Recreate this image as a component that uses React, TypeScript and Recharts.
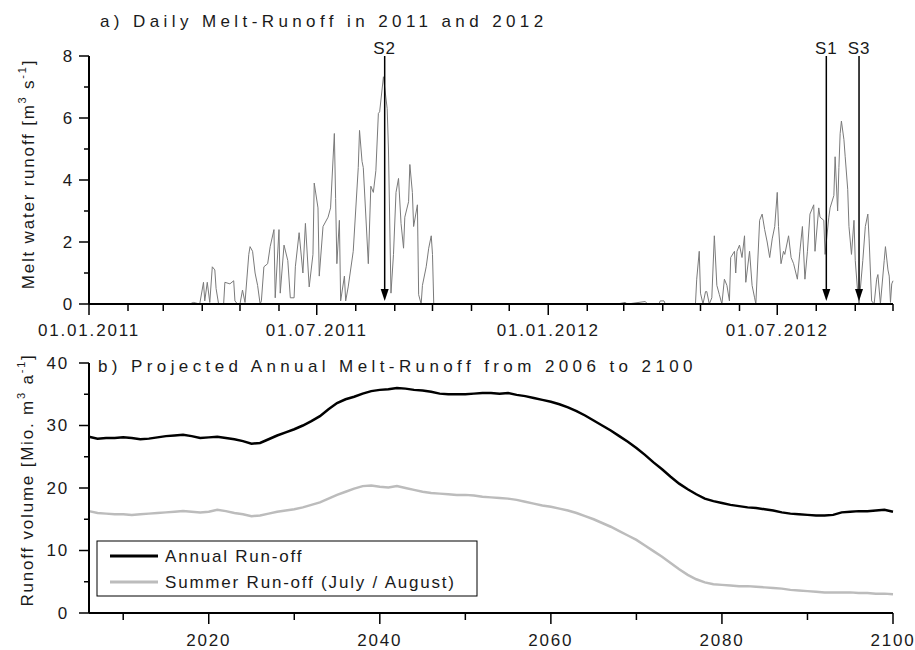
import { Line, LineChart, ReferenceLine, XAxis, YAxis } from 'recharts'

// a) daily melt-runoff, day counted from 01.01.2011, values in m³/s
const meltDays = [
	0, 80, 83, 88, 91, 92, 94, 96, 98, 100, 101, 103, 107, 108, 112, 115, 116, 118, 120, 122,
	124, 127, 128, 130, 132, 134, 136, 137, 139, 142, 144, 147, 148, 151, 152, 155, 158, 160, 163, 164,
	167, 170, 172, 175, 178, 179, 182, 183, 186, 190, 192, 195, 196, 197, 199, 200, 203, 204, 206, 210,
	214, 215, 217, 218, 222, 224, 226, 228, 230, 231, 234, 237, 238, 240, 242, 244, 246, 248, 250, 251,
	254, 255, 257, 258, 261, 262, 264, 265, 268, 270, 272, 273, 274,
	420, 426, 428, 442, 444, 453, 454, 457, 458, 482, 483, 485, 486, 488, 490, 491, 493, 495, 497, 499,
	501, 503, 505, 507, 509, 510, 513, 514, 515, 517, 519, 521, 522, 525, 527, 529, 530, 533, 535, 537,
	539, 541, 543, 545, 547, 548, 550, 552, 553, 556, 558, 560, 563, 565, 567, 569, 571, 573, 576, 577,
	580, 581, 584, 585, 588, 589, 592, 593, 595, 596, 597, 598, 600, 601, 603, 604, 606, 608, 609, 611,
	612, 615, 617, 619, 620, 622, 624, 626, 627, 629, 632, 633, 635, 636, 637, 638, 639
]
const meltValues = [
	0, 0, 0.05, 0, 0.7, 0.1, 0.7, 0.05, 1.2, 1.1, 0.5, 0, 0, 0.7, 0.65, 0.75, 0.1, 0, 0, 0.45,
	0.05, 1.6, 1.85, 1.7, 1.0, 0.6, 0, 0.1, 1.2, 1.3, 1.85, 2.4, 0.2, 2.4, 0.35, 1.9, 1.4, 0.2, 0.2, 1.2,
	2.3, 1.0, 2.6, 0.55, 1.6, 3.9, 3.1, 0.9, 2.5, 2.8, 3.1, 5.5, 3.4, 1.3, 2.7, 0.1, 0.9, 0.1, 0.55, 1.7,
	4.4, 5.6, 4.6, 4.4, 1.3, 3.8, 3.6, 4.3, 6.15, 6.2, 7.33, 6.3, 5.0, 0.35, 1.6, 3.6, 4.05, 2.6, 1.8, 2.8,
	3.3, 4.5, 3.6, 2.5, 3.2, 0.3, 0, 0.6, 1.2, 1.8, 2.2, 1.6, 0,
	0, 0.05, 0, 0.08, 0, 0, 0.1, 0.1, 0, 0, 0.8, 1.7, 0.35, 0, 0.4, 0.4, 0, 0.2, 2.2, 0.6,
	0.3, 0, 0.8, 0.6, 0.1, 1.5, 1.7, 1.0, 1.7, 1.9, 1.5, 2.2, 0.7, 1.7, 0.6, 0.2, 0, 2.7, 2.9, 2.4,
	2.0, 1.5, 2.1, 2.5, 3.6, 2.5, 1.3, 1.7, 1.6, 2.2, 1.5, 1.3, 0.8, 1.7, 2.5, 0.8, 1.7, 2.9, 3.2, 1.7,
	3.1, 2.8, 2.7, 1.6, 2.8, 3.1, 3.5, 4.75, 3.0, 4.4, 5.5, 5.9, 5.3, 4.75, 3.7, 2.5, 1.6, 2.7, 1.4, 0.35,
	0, 1.4, 2.5, 2.9, 2.1, 0.1, 0, 0.8, 0.95, 0, 1.4, 1.85, 1.1, 0.9, 0.05, 0.65, 0.75
]

// sampling dates marked with arrows
const sampleNames = ['S2', 'S1', 'S3']
const sampleDays = [235, 586, 612]

const axisMonths = [
	'2011-01', '2011-02', '2011-03', '2011-04', '2011-05', '2011-06', '2011-07', '2011-08',
	'2011-09', '2011-10', '2011-11', '2011-12', '2012-01', '2012-02', '2012-03', '2012-04',
	'2012-05', '2012-06', '2012-07', '2012-08', '2012-09', '2012-10'
]
const meltTicks = [0, 1, 2, 3, 4, 5, 6, 7, 8]

// b) projected annual runoff, Mio. m³ per year
const years = [
	2006, 2007, 2008, 2009, 2010, 2011, 2012, 2013, 2014, 2015, 2016, 2017, 2018, 2019,
	2020, 2021, 2022, 2023, 2024, 2025, 2026, 2027, 2028, 2029, 2030, 2031, 2032, 2033,
	2034, 2035, 2036, 2037, 2038, 2039, 2040, 2041, 2042, 2043, 2044, 2045, 2046, 2047,
	2048, 2049, 2050, 2051, 2052, 2053, 2054, 2055, 2056, 2057, 2058, 2059, 2060, 2061,
	2062, 2063, 2064, 2065, 2066, 2067, 2068, 2069, 2070, 2071, 2072, 2073, 2074, 2075,
	2076, 2077, 2078, 2079, 2080, 2081, 2082, 2083, 2084, 2085, 2086, 2087, 2088, 2089,
	2090, 2091, 2092, 2093, 2094, 2095, 2096, 2097, 2098, 2099, 2100
]
const annualRunoff = [
	28.2, 27.9, 28.0, 28.0, 28.1, 28.0, 27.8, 27.9, 28.1, 28.3, 28.4, 28.5, 28.3, 28.0,
	28.1, 28.2, 28.0, 27.8, 27.5, 27.1, 27.2, 27.8, 28.4, 28.9, 29.4, 30.0, 30.7, 31.5,
	32.6, 33.6, 34.2, 34.6, 35.1, 35.5, 35.7, 35.8, 36.0, 35.9, 35.7, 35.6, 35.4, 35.1,
	35.0, 35.0, 35.0, 35.1, 35.2, 35.2, 35.1, 35.2, 34.9, 34.7, 34.4, 34.1, 33.8, 33.4,
	32.9, 32.3, 31.6, 30.8, 30.0, 29.2, 28.3, 27.4, 26.4, 25.3, 24.1, 23.0, 21.8, 20.7,
	19.8, 19.0, 18.3, 17.9, 17.6, 17.3, 17.1, 16.9, 16.8, 16.6, 16.4, 16.1, 15.9, 15.8,
	15.7, 15.6, 15.6, 15.7, 16.1, 16.2, 16.3, 16.3, 16.4, 16.5, 16.2
]
const summerRunoff = [
	16.3, 16.0, 15.9, 15.8, 15.8, 15.7, 15.8, 15.9, 16.0, 16.1, 16.2, 16.3, 16.2, 16.1,
	16.2, 16.5, 16.3, 16.0, 15.8, 15.5, 15.6, 15.9, 16.2, 16.4, 16.6, 16.9, 17.3, 17.7,
	18.3, 18.9, 19.4, 19.9, 20.3, 20.4, 20.2, 20.1, 20.3, 20.0, 19.7, 19.4, 19.2, 19.1,
	19.0, 18.9, 18.9, 18.8, 18.6, 18.5, 18.4, 18.3, 18.1, 17.8, 17.5, 17.2, 17.0, 16.7,
	16.4, 16.0, 15.5, 15.0, 14.4, 13.8, 13.1, 12.4, 11.7, 10.8, 9.9, 9.0, 8.0, 7.0,
	6.1, 5.4, 4.9, 4.6, 4.5, 4.4, 4.3, 4.3, 4.2, 4.1, 4.0, 3.9, 3.7, 3.6,
	3.5, 3.4, 3.3, 3.3, 3.3, 3.3, 3.2, 3.2, 3.1, 3.1, 3.0
]
const seriesNames = ['Annual Run-off', 'Summer Run-off (July / August)']
const seriesColors = ['#000000', '#bcbcbc']
const yearTicks = [2010, 2020, 2030, 2040, 2050, 2060, 2070, 2080, 2090, 2100]
const volumeTicks = [0, 5, 10, 15, 20, 25, 30, 35, 40]

const FONT = "'Liberation Sans', Arial, sans-serif"
const label = { fontFamily: FONT, fontSize: 17, letterSpacing: 1.8, fill: '#1a1a1a' }
const title = { ...label, letterSpacing: 4.4 }

const DAY = 86400000
const start = Date.UTC(2011, 0, 1)
const monthDays = axisMonths.map(m => {
	const [y, mo] = m.split('-').map(Number)
	return Math.round((Date.UTC(y, mo - 1, 1) - start) / DAY)
})

const meltData = meltDays.map((d, i) => ({ day: d, runoff: meltValues[i] }))
const volumeData = years.map((y, i) => ({
	year: y,
	annual: annualRunoff[i],
	summer: summerRunoff[i]
}))

// левые тики: длинный с подписью, короткий без
const yTick = (isMajor: (v: number) => boolean, gap: number) => (p: any) => {
	const major = isMajor(p.payload.value)
	return (
		<g>
			<line x1={p.x - (major ? 10 : 5)} x2={p.x} y1={p.y} y2={p.y} stroke='#000' strokeWidth={1.5} />
			{major && (
				<text x={p.x - gap} y={p.y} textAnchor='end' dominantBaseline='central' style={label}>
					{p.payload.value}
				</text>
			)}
		</g>
	)
}

const xTick = (labelOf: (v: number) => string | null, gap: number) => (p: any) => {
	const text = labelOf(p.payload.value)
	return (
		<g>
			<line x1={p.x} x2={p.x} y1={p.y} y2={p.y + (text ? 11 : 7)} stroke='#000' strokeWidth={1.5} />
			{text && (
				<text x={p.x} y={p.y + gap} textAnchor='middle' dominantBaseline='central' style={label}>
					{text}
				</text>
			)}
		</g>
	)
}

const monthLabel = (v: number) => {
	const m = axisMonths[monthDays.indexOf(v)]
	if (!m) return null
	const [y, mo] = m.split('-')
	return mo === '01' || mo === '07' ? `01.${mo}.${y}` : null
}

const Arrow = (p: any) => (
	<g>
		<line x1={p.x1} y1={p.y1} x2={p.x2} y2={p.y2 - 8} stroke='#000' strokeWidth={1.5} />
		<path d={`M${p.x2 - 4},${p.y2 - 12} L${p.x2 + 4},${p.y2 - 12} L${p.x2},${p.y2} Z`} fill='#000' />
	</g>
)

const axisLine = { stroke: '#000', strokeWidth: 2 }

export default function App() {
	return (
		<div style={{ position: 'absolute', left: 0, top: 0, width: 915, height: 650, background: '#fff' }}>
			<div style={{ position: 'absolute', left: 0, top: 0 }}>
				<LineChart width={915} height={345} data={meltData} margin={{ top: 56, right: 22, bottom: 11, left: 0 }}>
					<Line
						dataKey='runoff'
						type='linear'
						stroke='#7a7a7a'
						strokeWidth={1}
						dot={false}
						isAnimationActive={false}
					/>
					{sampleNames.map((name, i) => (
						<ReferenceLine
							key={name}
							segment={[
								{ x: sampleDays[i], y: 8 },
								{ x: sampleDays[i], y: 0.1 }
							]}
							shape={Arrow}
							label={{ value: name, position: 'top', offset: 2, ...label, letterSpacing: 1 }}
						/>
					))}
					<XAxis
						dataKey='day'
						type='number'
						domain={[0, monthDays[monthDays.length - 1]]}
						ticks={monthDays}
						interval={0}
						height={30}
						tickSize={0}
						tickMargin={0}
						tickLine={false}
						axisLine={axisLine}
						tick={xTick(monthLabel, 26)}
					/>
					<YAxis
						type='number'
						domain={[0, 8]}
						ticks={meltTicks}
						interval={0}
						width={89}
						tickSize={0}
						tickMargin={0}
						tickLine={false}
						axisLine={axisLine}
						tick={yTick(v => v % 2 === 0, 15)}
					/>
				</LineChart>
			</div>

			<div style={{ position: 'absolute', left: 0, top: 330 }}>
				<LineChart width={915} height={320} data={volumeData} margin={{ top: 33, right: 22, bottom: 1, left: 0 }}>
					<Line
						dataKey='annual'
						name={seriesNames[0]}
						stroke={seriesColors[0]}
						strokeWidth={2.5}
						dot={false}
						isAnimationActive={false}
					/>
					<Line
						dataKey='summer'
						name={seriesNames[1]}
						stroke={seriesColors[1]}
						strokeWidth={2.5}
						dot={false}
						isAnimationActive={false}
					/>
					<XAxis
						dataKey='year'
						type='number'
						domain={[2006, 2100]}
						ticks={yearTicks}
						interval={0}
						height={36}
						tickSize={0}
						tickMargin={0}
						tickLine={false}
						axisLine={axisLine}
						tick={xTick(v => (v % 20 === 0 ? String(v) : null), 27)}
					/>
					<YAxis
						type='number'
						domain={[0, 40]}
						ticks={volumeTicks}
						interval={0}
						width={89}
						tickSize={0}
						tickMargin={0}
						tickLine={false}
						axisLine={axisLine}
						tick={yTick(v => v % 10 === 0, 20)}
					/>
				</LineChart>
			</div>

			<svg width={915} height={650} style={{ position: 'absolute', left: 0, top: 0, pointerEvents: 'none' }}>
				<text x={100} y={27} style={title}>
					a) Daily Melt-Runoff in 2011 and 2012
				</text>
				<text x={98} y={372} style={title}>
					b) Projected Annual Melt-Runoff from 2006 to 2100
				</text>
				<text
					x={28}
					y={174}
					transform='rotate(-90 28 174)'
					textAnchor='middle'
					dominantBaseline='central'
					style={label}
				>
					Melt water runoff [m<tspan baselineShift='super' fontSize={11}>3</tspan> s
					<tspan baselineShift='super' fontSize={11}>-1</tspan>]
				</text>
				<text
					x={27}
					y={480}
					transform='rotate(-90 27 480)'
					textAnchor='middle'
					dominantBaseline='central'
					style={label}
				>
					Runoff volume [Mio. m<tspan baselineShift='super' fontSize={11}>3</tspan> a
					<tspan baselineShift='super' fontSize={11}>-1</tspan>]
				</text>

				<rect x={97} y={541} width={380} height={55} fill='#fff' stroke='#000' strokeWidth={1} />
				{seriesNames.map((name, i) => (
					<g key={name}>
						<line x1={110} x2={158} y1={556 + i * 26} y2={556 + i * 26} stroke={seriesColors[i]} strokeWidth={3} />
						<text x={165} y={556 + i * 26} dominantBaseline='central' style={label}>
							{name}
						</text>
					</g>
				))}
			</svg>
		</div>
	)
}
